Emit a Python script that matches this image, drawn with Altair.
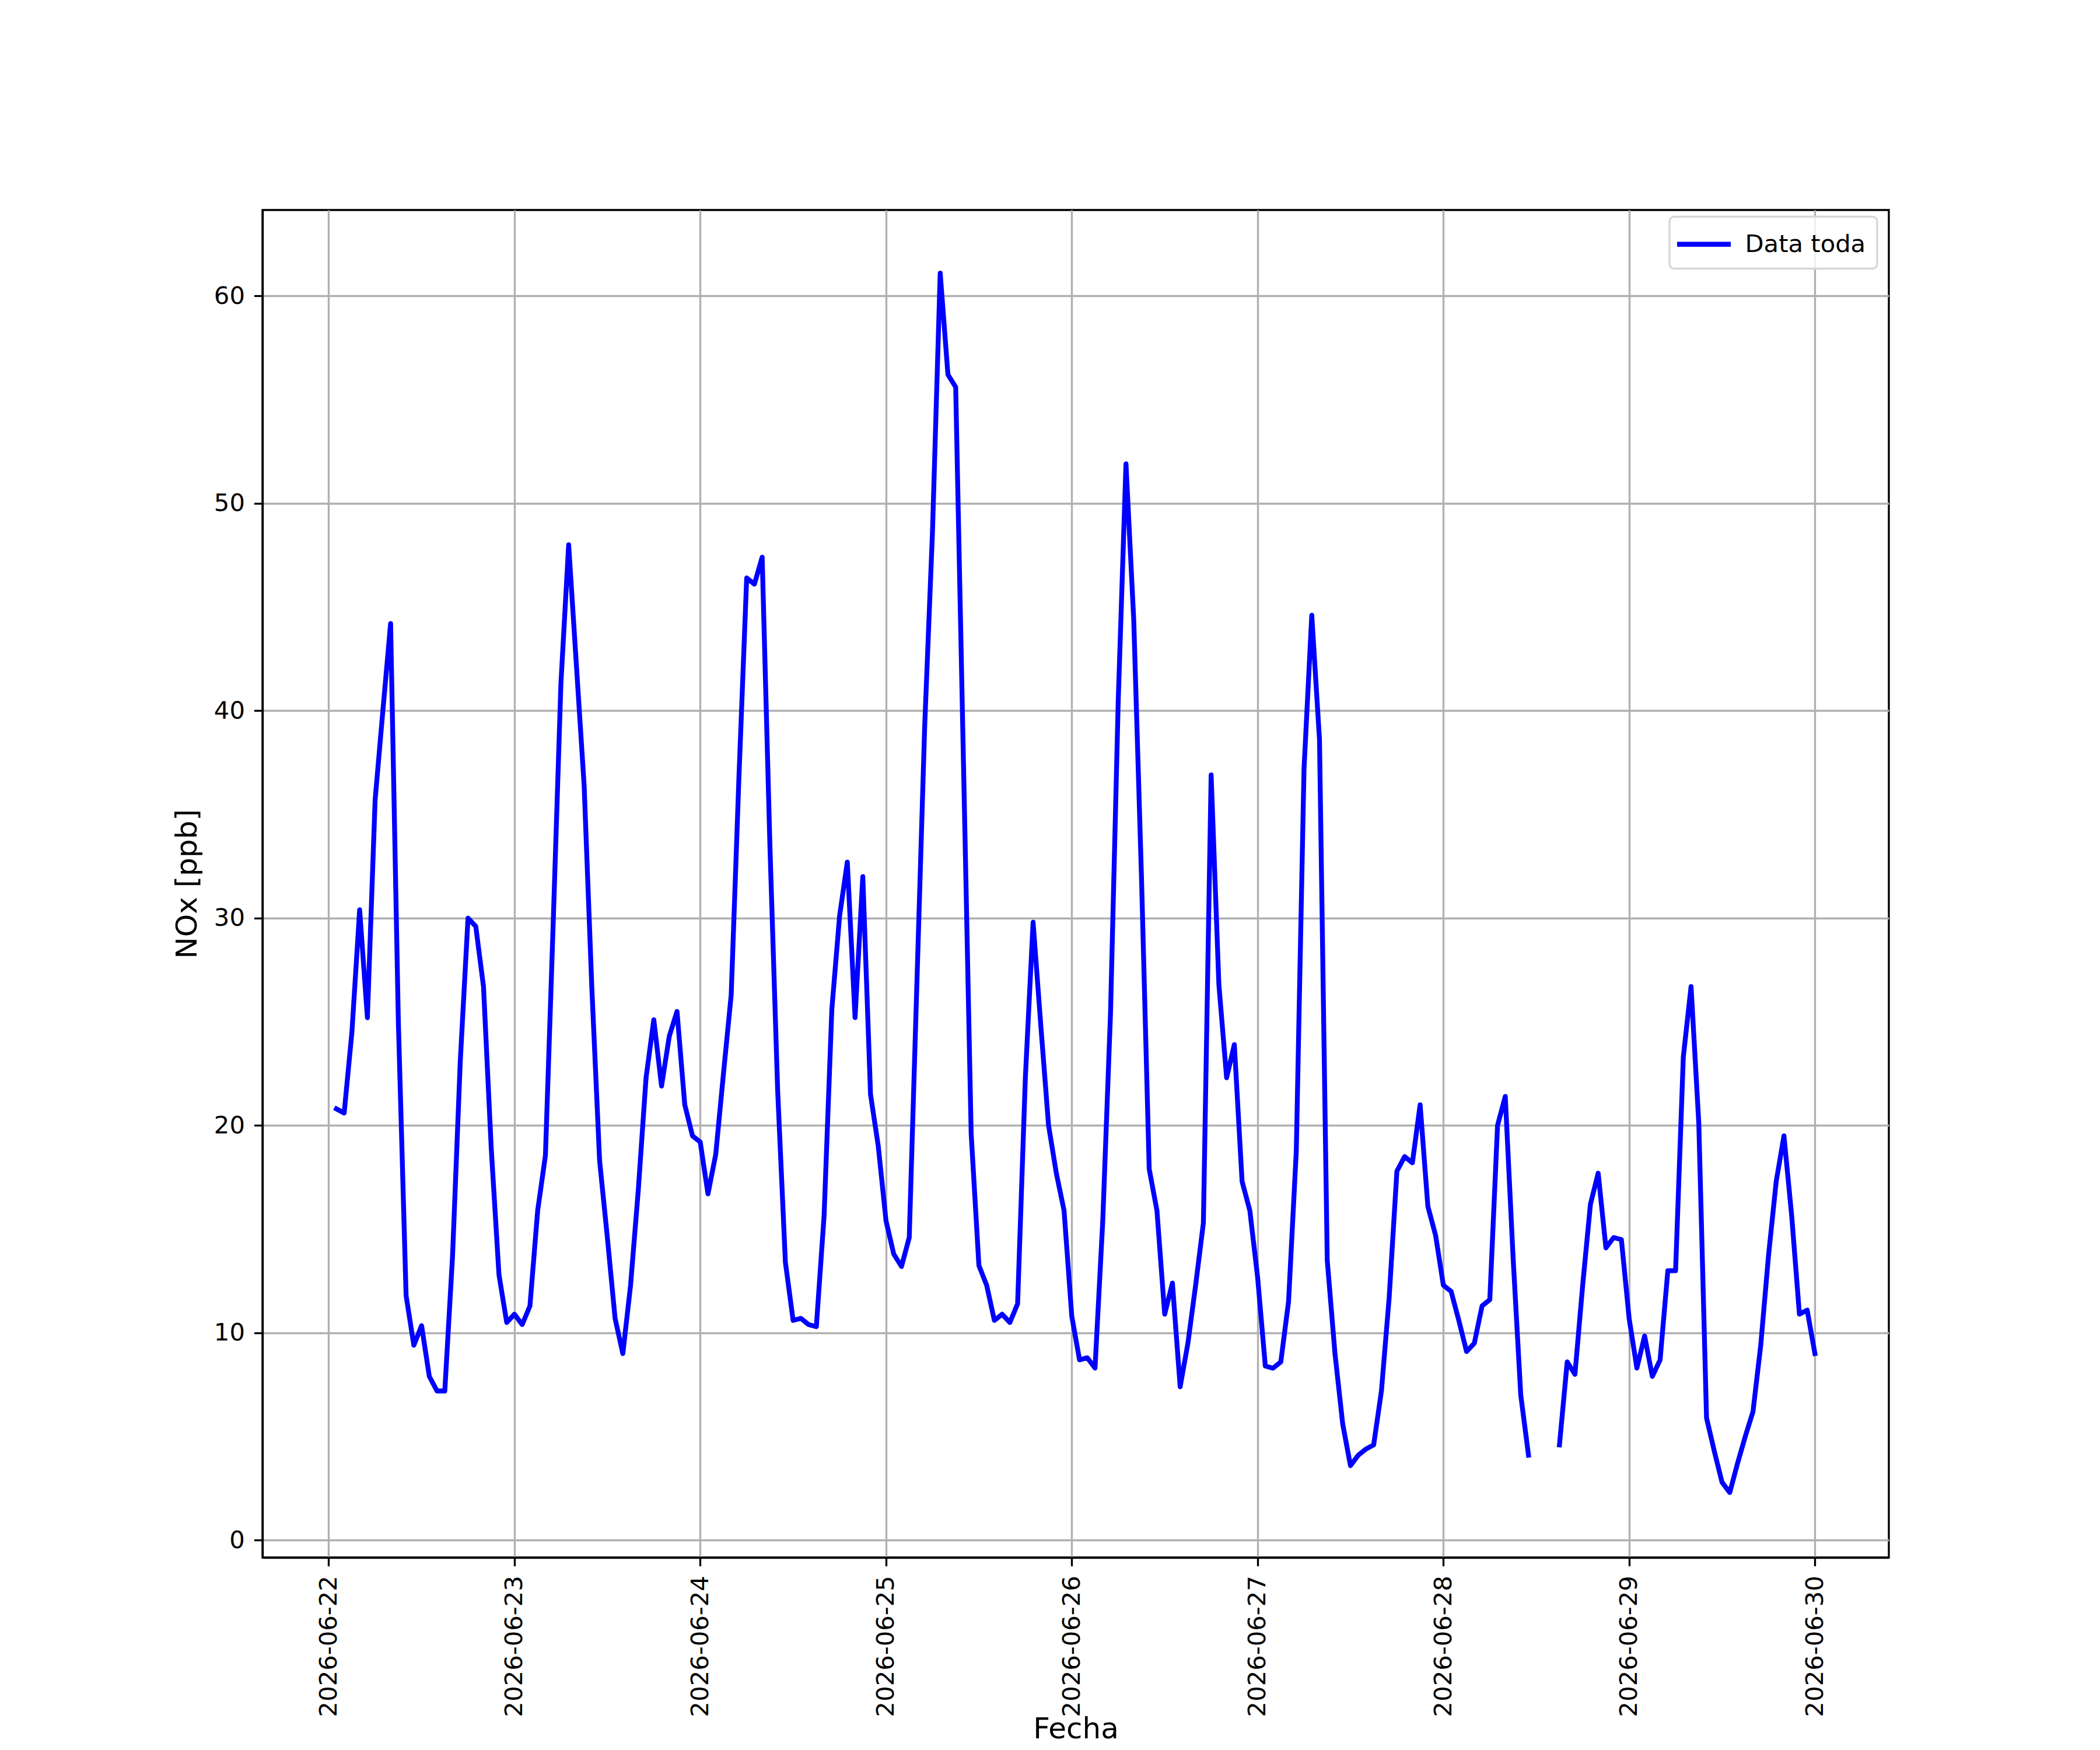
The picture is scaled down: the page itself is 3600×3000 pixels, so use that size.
import altair as alt
import pandas as pd

serie = "Data toda"
inicio = "2026-06-22 01:00"

# NOx [ppb], valores horarios (06-22 desde la 01:00; demás días desde las 00:00)
nox_0622 = [20.8, 20.6, 24.5, 30.4, 25.2, 35.7, 40.0, 44.2, 25.0, 11.8, 9.4, 10.35,
            7.9, 7.2, 7.2, 13.7, 23.1, 30.0, 29.6, 26.7, 18.9, 12.8, 10.5]
nox_0623 = [10.9, 10.4, 11.3, 15.9, 18.55, 29.7, 41.3, 48.0, 42.2, 36.4, 26.6, 18.3,
            14.6, 10.7, 9.0, 12.3, 16.9, 22.3, 25.1, 21.9, 24.3, 25.5, 21.0, 19.5]
nox_0624 = [19.2, 16.7, 18.6, 22.5, 26.3, 36.8, 46.4, 46.1, 47.4, 33.5, 21.7, 13.4,
            10.6, 10.7, 10.4, 10.3, 15.65, 25.6, 30.1, 32.7, 25.2, 32.0, 21.5, 19.0]
nox_0625 = [15.4, 13.8, 13.2, 14.6, 27.0, 39.3, 48.6, 61.1, 56.2, 55.6, 37.6, 19.6,
            13.25, 12.3, 10.6, 10.9, 10.5, 11.4, 22.3, 29.8, 24.8, 20.0, 17.7, 15.9]
nox_0626 = [10.8, 8.7, 8.8, 8.3, 15.4, 25.4, 40.5, 51.9, 44.4, 32.0, 17.9, 15.9,
            10.9, 12.4, 7.4, 9.5, 12.3, 15.3, 36.9, 26.8, 22.3, 23.9, 17.3, 15.9]
nox_0627 = [12.7, 8.4, 8.3, 8.6, 11.5, 18.75, 37.2, 44.6, 38.6, 13.5, 9.0, 5.6,
            3.6, 4.1, 4.4, 4.6, 7.2, 11.7, 17.8, 18.5, 18.2, 21.0, 16.1, 14.7]
nox_0628 = [12.3, 12.0, 10.6, 9.1, 9.5, 11.3, 11.6, 20.0, 21.4, 13.7, 7.0, 4.1,
            None, None, None, 4.6, 8.6, 8.0, 12.3, 16.2, 17.7, 14.1, 14.6, 14.5]
nox_0629 = [10.7, 8.3, 9.85, 7.9, 8.7, 13.0, 13.0, 23.3, 26.7, 20.1, 5.9, 4.3,
            2.8, 2.3, 3.7, 5.0, 6.2, 9.4, 13.7, 17.3, 19.5, 15.65, 10.9, 11.1]
nox_0630 = [9.0]

dias_ticks = [22, 23, 24, 25, 26, 27, 28, 29, 30]

valores = (nox_0622 + nox_0623 + nox_0624 + nox_0625 + nox_0626 +
           nox_0627 + nox_0628 + nox_0629 + nox_0630)
fechas = pd.date_range(inicio, periods=len(valores), freq="h").strftime("%Y-%m-%dT%H:%M:%S")

filas = []
seg = 0
for f, v in zip(fechas, valores):
    if v is None:
        seg += 1
        continue
    filas.append({"fecha": f, "nox": v, "seg": seg, "serie": serie})
df = pd.DataFrame(filas)
df["seg"] = df["seg"].rank(method="dense").astype(int)

FONT = "DejaVu Sans"
LW = 8.3

x_axis = alt.Axis(
    values=[alt.DateTime(year=2026, month=6, date=d) for d in dias_ticks],
    format="%Y-%m-%d",
    labelAngle=270,
    labelAlign="right",
    labelBaseline="middle",
    labelPadding=16,
    labelLimit=0,
    title="Fecha",
    titleBaseline="alphabetic",
    titleY=309,
)
y_axis = alt.Axis(
    values=[0, 10, 20, 30, 40, 50, 60],
    format="d",
    labelPadding=16,
    title="NOx [ppb]",
    titlePadding=20,
)

chart = alt.Chart(df).mark_line(
    strokeWidth=LW, strokeJoin="round", strokeCap="square", clip=True
).encode(
    x=alt.X("fecha:T",
            scale=alt.Scale(domain=[alt.DateTime(year=2026, month=6, date=21, hours=15, minutes=27),
                                    alt.DateTime(year=2026, month=6, date=30, hours=9, minutes=33)]),
            axis=x_axis),
    y=alt.Y("nox:Q", scale=alt.Scale(domain=[-0.83, 64.14], nice=False, zero=False), axis=y_axis),
    color=alt.Color("serie:N",
                    scale=alt.Scale(domain=[serie], range=["#0000ff"]),
                    legend=alt.Legend(
                        title=None,
                        orient="none",
                        legendX=2412,
                        legendY=11.5,
                        symbolType="M-2,0H2",
                        symbolSize=2116,
                        symbolStrokeWidth=LW,
                        symbolOffset=11.75,
                        labelOffset=43,
                        labelLimit=0,
                        padding=19.75,
                        cornerRadius=8,
                        strokeColor="#d6d6d6",
                        fillColor="rgba(255,255,255,0.8)",
                    )),
    detail="seg:N",
).properties(
    width=2788,
    height=2310,
    autosize=alt.AutoSizeParams(type="none"),
    padding={"left": 442, "top": 352, "right": 354, "bottom": 322},
).configure_view(
    stroke="black", strokeWidth=3.33
).configure_axis(
    grid=True,
    gridColor="#b0b0b0",
    gridWidth=3.33,
    domainColor="black",
    domainWidth=3.33,
    tickColor="black",
    tickWidth=3.33,
    tickSize=14.6,
    labelFont=FONT,
    labelFontSize=41.7,
    labelColor="black",
    titleFont=FONT,
    titleFontSize=50,
    titleFontWeight="normal",
    titleColor="black",
).configure_legend(
    labelFont=FONT,
    labelFontSize=41.7,
    labelColor="black",
    strokeWidth=3.3,
)

chart.save("out.html", embed_options={"renderer": "svg", "actions": False})
